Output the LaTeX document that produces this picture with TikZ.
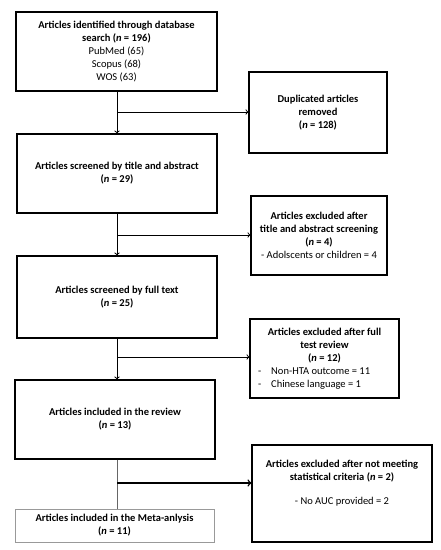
\documentclass[tikz,border=0pt]{standalone}
\usepackage{fontspec}
\setmainfont{Carlito}
\begin{document}
\begin{tikzpicture}[x=1pt,y=-1pt,
		box/.style={draw, line width=1.1pt, align=center, inner sep=2pt, font=\fontsize{10.5}{13}\selectfont},
		flow/.style={line width=1pt}]
		\useasboundingbox (0,0) rectangle (441,550);
		
		\node[box, minimum width=201pt, minimum height=79pt] (ident) at (116.5,51.5)
			{\textbf{Articles identified through database}\\\textbf{search (\textit{n} = 196)}\\PubMed (65)\\Scopus (68)\\WOS (63)};
		\node[box, minimum width=138pt, minimum height=81pt] (dup) at (318,112.5)
			{\textbf{Duplicated articles}\\\textbf{removed}\\\textbf{(\textit{n} = 128)}};
		\node[box, minimum width=200pt, minimum height=79pt] (screen) at (117,173.5)
			{\textbf{Articles screened by title and abstract}\\\textbf{(\textit{n} = 29)}};
		\node[box, minimum width=136pt, minimum height=79pt] (excltitle) at (319,235.5)
			{\textbf{Articles excluded after}\\\textbf{title and abstract screening}\\\textbf{(\textit{n} = 4)}\\- Adolscents or children = 4};
		\node[box, minimum width=149pt, minimum height=79pt] (exclfull) at (324.5,358.5)
			{\textbf{Articles excluded after full}\\\textbf{test review}\\\textbf{(\textit{n} = 12)}\\
			\makebox[133pt][l]{-\hspace{10pt}Non-HTA outcome = 11}\\\makebox[133pt][l]{-\hspace{10pt}Chinese language = 1}};
		\node[box, minimum width=200pt, minimum height=82pt] (full) at (117,297)
			{\textbf{Articles screened by full text}\\\textbf{(\textit{n} = 25)}};
		\node[box, minimum width=200pt, minimum height=79pt] (review) at (115,419.5)
			{\textbf{Articles included in the review}\\\textbf{(\textit{n} = 13)}};
		\node[box, minimum width=180pt, minimum height=97pt] (exclstat) at (342,493.5)
			{\textbf{Articles excluded after not meeting}\\\textbf{statistical criteria (\textit{n} = 2)}\\[11pt]- No AUC provided = 2\\[10pt]};
		\node[box, draw=gray!80, line width=0.6pt, minimum width=199pt, minimum height=33pt] (meta) at (114.5,525.5)
			{\textbf{Articles included in the Meta-anlysis}\\\textbf{(\textit{n} = 11)}};
		
		% main flow
		\draw[flow, ->] (ident.south -| 117,0) -- (117,0 |- screen.north);
		\draw[flow, ->] (screen.south -| 117,0) -- (117,0 |- full.north);
		\draw[flow, ->] (full.south -| 117,0) -- (117,0 |- review.north);
		\draw[gray!80!black, line width=0.7pt] (review.south -| 117,0) -- (117,0 |- meta.north);
		
		% side branches
		\coordinate (j1) at (117,112);
		\coordinate (j2) at (117,235);
		\coordinate (j3) at (117,357);
		\coordinate (j4) at (117,483);
		\draw[flow, ->] (j1) -- (j1 -| dup.west);
		\draw[flow, ->] (j2) -- (j2 -| excltitle.west);
		\draw[flow, ->] (j3) -- (j3 -| exclfull.west);
		\draw[line width=1.5pt, ->] (j4) -- (j4 -| exclstat.west);
	\end{tikzpicture}
\end{document}
